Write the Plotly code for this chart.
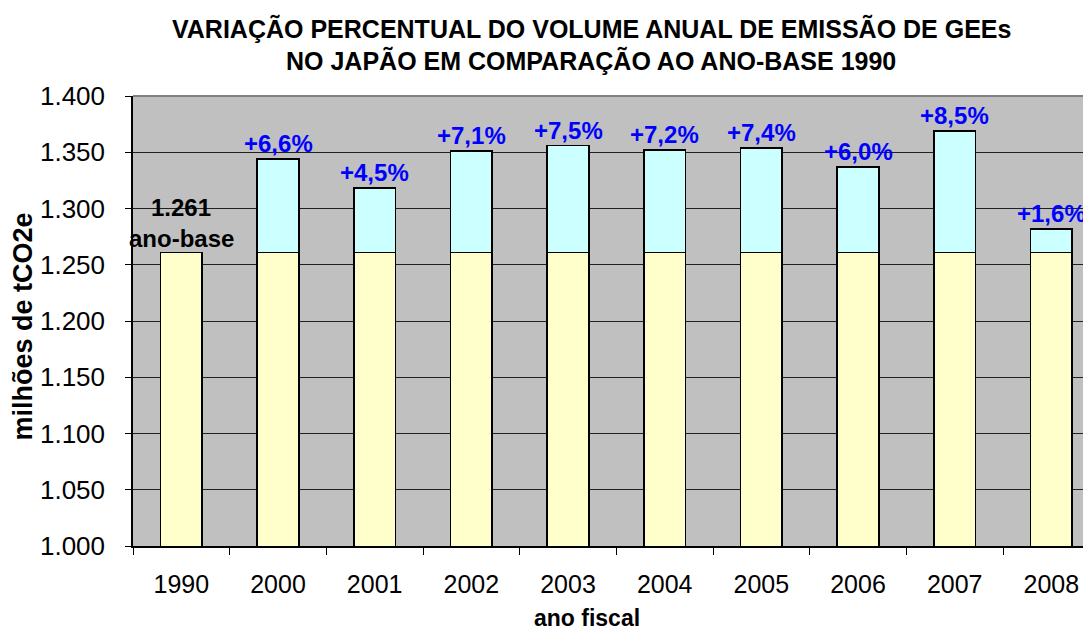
import plotly.graph_objects as go

years = ["1990", "2000", "2001", "2002", "2003", "2004", "2005", "2006", "2007", "2008"]
base_value = 1261
totals = [1261, 1344, 1318, 1351, 1356, 1352, 1354, 1337, 1369, 1282]
pct_labels = ["", "+6,6%", "+4,5%", "+7,1%", "+7,5%", "+7,2%", "+7,4%", "+6,0%", "+8,5%", "+1,6%"]
y_ticks = [1000, 1050, 1100, 1150, 1200, 1250, 1300, 1350, 1400]

base_vals = [base_value for _ in years]
extra_vals = [t - base_value for t in totals]
idx = list(range(len(years)))

FONT = "Liberation Sans, Arial"

fig = go.Figure()
fig.add_trace(go.Bar(x=idx, y=base_vals, width=0.43,
                     marker=dict(color="#FFFFCC", line=dict(color="black", width=1.6)), hoverinfo="skip"))
fig.add_trace(go.Bar(x=idx, y=extra_vals, width=0.43,
                     marker=dict(color="#CCFFFF", line=dict(color="black", width=1.6)), hoverinfo="skip"))

ann = []
for i, tot, lab in zip(idx, totals, pct_labels):
    if lab:
        ann.append(dict(x=i, y=tot, xref="x", yref="y", text=lab, showarrow=False, yanchor="bottom",
                        xanchor="center", yshift=0,
                        font=dict(family=FONT, size=24, color="#0000FF", weight="bold")))
ann.append(dict(x=0, y=1301, xref="x", yref="y", text="1.261", showarrow=False, yanchor="middle",
                font=dict(family=FONT, size=24, color="black", weight="bold")))
ann.append(dict(x=0, y=1273, xref="x", yref="y", text="ano-base", showarrow=False, yanchor="middle",
                font=dict(family=FONT, size=24, color="black", weight="bold")))


def px(page_x):
    return (page_x - 133) / 958


def py(page_y):
    return (545.5 - page_y) / 450


ann.append(dict(xref="paper", yref="paper", x=px(591), y=py(28),
                text="VARIAÇÃO PERCENTUAL DO VOLUME ANUAL DE EMISSÃO DE GEEs", showarrow=False,
                yanchor="middle", font=dict(family=FONT, size=25, color="black", weight="bold")))
ann.append(dict(xref="paper", yref="paper", x=px(591), y=py(60),
                text="NO JAPÃO EM COMPARAÇÃO AO ANO-BASE 1990", showarrow=False,
                yanchor="middle", font=dict(family=FONT, size=25, color="black", weight="bold")))
ann.append(dict(xref="paper", yref="paper", x=px(587), y=py(617),
                text="ano fiscal", showarrow=False, yanchor="middle",
                font=dict(family=FONT, size=23, color="black", weight="bold")))
ann.append(dict(xref="paper", yref="paper", x=px(22), y=py(326),
                text="milhões de tCO2e", showarrow=False, textangle=-90, xanchor="center", yanchor="middle",
                font=dict(family=FONT, size=27, color="black", weight="bold")))

fig.update_layout(
    width=1083, height=624,
    margin=dict(l=125, r=0, t=88, b=86, pad=0),
    barmode="stack",
    showlegend=False,
    paper_bgcolor="white", plot_bgcolor="#C0C0C0",
    separators=",.",
    annotations=ann,
    shapes=[dict(type="line", xref="paper", yref="paper", x0=0, x1=1, y0=1, y1=1,
                 line=dict(color="#808080", width=2))],
)
fig.update_xaxes(range=[-0.5, 9.41], tickvals=idx, ticktext=years, showline=True, linecolor="black",
                 linewidth=1.5, ticks="", showgrid=False, zeroline=False, ticklabelstandoff=15,
                 tickfont=dict(family=FONT, size=25, color="black"))
fig.update_xaxes(minor=dict(tickvals=[i - 0.5 for i in idx] + [9.5], ticks="outside", ticklen=7,
                            tickcolor="black", tickwidth=1.2, showgrid=False))
fig.update_yaxes(range=[1000, 1400], tickvals=y_ticks, tickformat=",d", showline=True, linecolor="black",
                 linewidth=1.5, ticks="outside", ticklen=6, tickcolor="black", ticklabelstandoff=15,
                 gridcolor="#202020", gridwidth=1.2, zeroline=False,
                 tickfont=dict(family=FONT, size=26, color="black"))

fig.write_html("out.html")
